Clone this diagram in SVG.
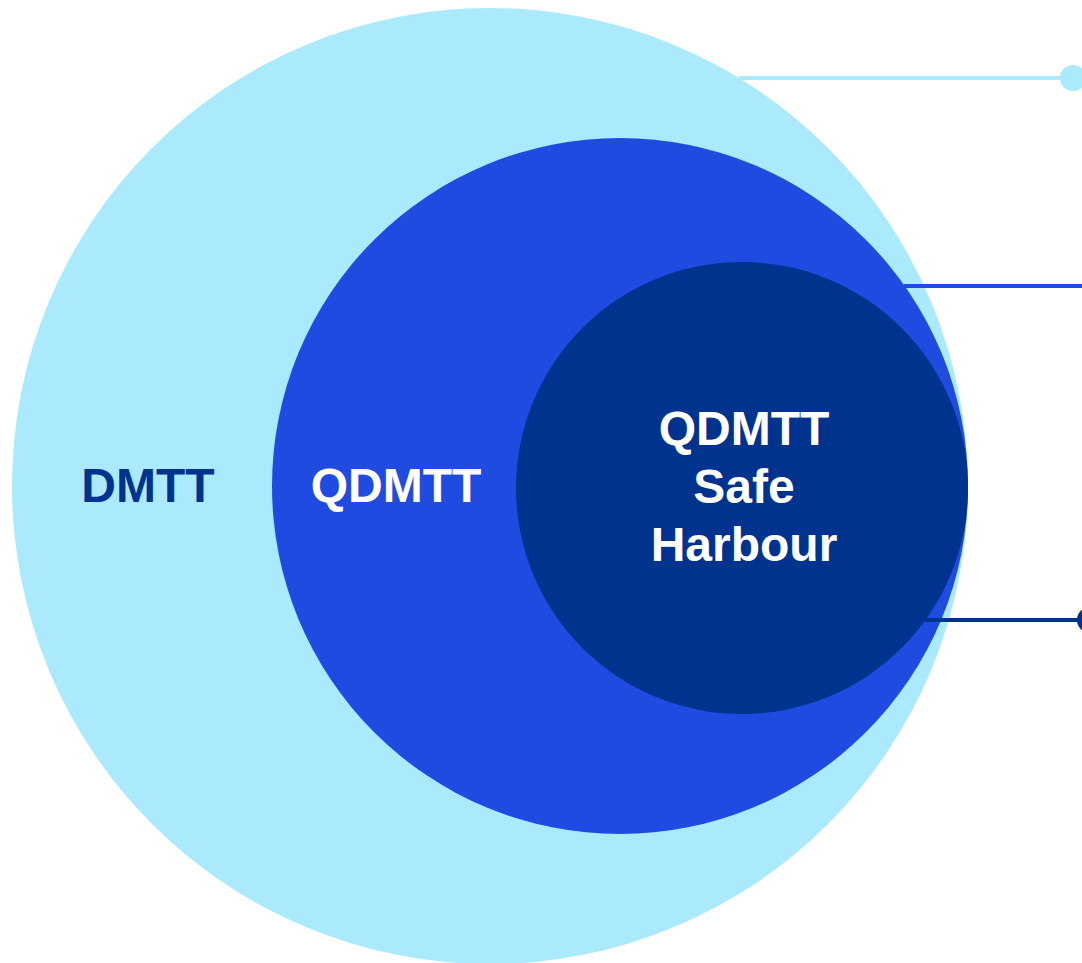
<svg xmlns="http://www.w3.org/2000/svg" width="1082" height="963" viewBox="0 0 1082 963">
  <style>
    .label { font-family: "Liberation Sans", Arial, sans-serif; font-weight: bold; font-size: 48px; text-anchor: middle; }
    .light { fill: #ABE9FD; }
    .mid { fill: #1F4BE0; }
    .dark { fill: #00338D; }
  </style>
  <rect width="1082" height="963" fill="#FFFFFF"/>

  <g id="dmtt">
    <circle cx="490" cy="486" r="478" class="light"/>
    <text x="148" y="502" class="label" fill="#00338D">DMTT</text>
  </g>

  <g id="qdmtt">
    <circle cx="620" cy="486" r="348" class="mid"/>
    <text x="396" y="502" class="label" fill="#FFFFFF">QDMTT</text>
  </g>

  <g id="qdmtt-safe-harbour">
    <circle cx="742" cy="488" r="226" class="dark"/>
    <text x="744" y="445" class="label" fill="#FFFFFF">QDMTT</text>
    <text x="744" y="503" class="label" fill="#FFFFFF">Safe</text>
    <text x="744" y="561" class="label" fill="#FFFFFF">Harbour</text>
  </g>

  <!-- leader lines from each circle's edge out to the right -->
  <g id="connectors">
    <line x1="739" y1="78" x2="1073" y2="78" stroke="#ABE9FD" stroke-width="4"/>
    <circle cx="1073" cy="78" r="13" class="light"/>
    <line x1="904" y1="286" x2="1082" y2="286" stroke="#1F4BE0" stroke-width="4"/>
    <line x1="925" y1="620" x2="1089" y2="620" stroke="#00338D" stroke-width="4"/>
    <circle cx="1090" cy="620" r="13" class="dark"/>
  </g>
</svg>
